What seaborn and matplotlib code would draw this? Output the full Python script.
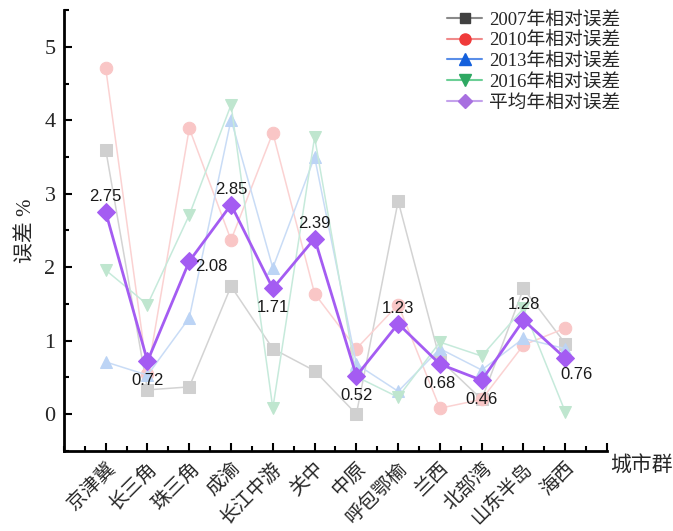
import numpy as np
import pandas as pd
import seaborn as sns
import matplotlib.pyplot as plt
import matplotlib.transforms as mtransforms
from matplotlib.lines import Line2D
from matplotlib.ticker import MultipleLocator

sns.set_theme(style="ticks")
plt.rcParams['font.family'] = ['Liberation Serif', 'Noto Sans CJK SC']
plt.rcParams['axes.unicode_minus'] = False

# City clusters and relative errors (%)
cities = ["京津冀", "长三角", "珠三角", "成渝", "长江中游", "关中",
          "中原", "呼包鄂榆", "兰西", "北部湾", "山东半岛", "海西"]
err_2007 = [3.60, 0.33, 0.37, 1.74, 0.89, 0.59, 0.00, 2.90, 0.74, 0.20, 1.71, 0.96]
err_2010 = [4.71, 0.55, 3.89, 2.37, 3.83, 1.64, 0.89, 1.49, 0.08, 0.20, 0.94, 1.17]
err_2013 = [0.71, 0.53, 1.31, 4.01, 1.99, 3.50, 0.68, 0.31, 0.89, 0.60, 1.03, 0.89]
err_2016 = [1.96, 1.49, 2.71, 4.21, 0.08, 3.77, 0.51, 0.23, 0.98, 0.79, 1.44, 0.03]
err_mean = [2.75, 0.72, 2.08, 2.85, 1.71, 2.39, 0.52, 1.23, 0.68, 0.46, 1.28, 0.76]

series_names = ["2007年相对误差", "2010年相对误差", "2013年相对误差",
                "2016年相对误差", "平均年相对误差"]

pos = np.arange(len(cities))
df = pd.DataFrame({"pos": pos, "城市群": cities,
                   series_names[0]: err_2007, series_names[1]: err_2010,
                   series_names[2]: err_2013, series_names[3]: err_2016,
                   series_names[4]: err_mean})

fig = plt.figure(figsize=(6.73, 5.31), dpi=100)
ax = fig.add_axes([0.095, 0.151, 0.807, 0.830])

# faded yearly series
faded = [
    (series_names[0], "#d3d3d3", "s", "#d0d0d0"),
    (series_names[1], "#fbd2d2", "o", "#f9c6c6"),
    (series_names[2], "#c9dcf6", "^", "#bcd4f5"),
    (series_names[3], "#c6eadb", "v", "#bfe6cf"),
]
for name, lc, mk, mc in faded:
    sns.lineplot(data=df, x="pos", y=name, ax=ax, color=lc, linewidth=1.1,
                 marker=mk, markersize=9, markerfacecolor=mc,
                 markeredgecolor=mc, legend=False, zorder=2)

# mean series on top
sns.lineplot(data=df, x="pos", y=series_names[4], ax=ax, color="#a45cf2",
             linewidth=2.0, marker="D", markersize=9,
             markerfacecolor="#a45cf2", markeredgecolor="#a45cf2",
             legend=False, zorder=5)

# value labels for the mean series
offsets = {0: (0, 11), 1: (0, -14), 2: (16, -4), 3: (0, 11), 4: (0, -14),
           5: (0, 11), 6: (0, -14), 7: (0, 11), 8: (0, -14), 9: (0, -14),
           10: (0, 11), 11: (8, -12)}
for i, v in enumerate(err_mean):
    dx, dy = offsets[i]
    ax.annotate(f"{v:.2f}", (pos[i], v), xytext=(dx, dy),
                textcoords="offset points", ha="center", va="center",
                fontsize=12, family="Liberation Sans", color="#1a1a1a",
                zorder=6)

ax.set_xlim(-1, 12)
ax.set_ylim(-0.5, 5.5)
ax.set_xticks(np.arange(0, 13))
ax.set_xticklabels(cities + [""], rotation=45, ha="right",
                   rotation_mode="anchor", fontsize=14)
shift = mtransforms.ScaledTranslation(10 / 100, -2 / 100, fig.dpi_scale_trans)
for lab in ax.get_xticklabels():
    lab.set_transform(lab.get_transform() + shift)
ax.xaxis.set_minor_locator(MultipleLocator(0.5))
ax.set_yticks([0, 1, 2, 3, 4, 5])
ax.yaxis.set_minor_locator(MultipleLocator(0.5))
ax.tick_params(axis="both", which="major", direction="in", length=6,
               width=1.5, color="black")
ax.tick_params(axis="y", which="major", labelsize=16, pad=6)
ax.tick_params(axis="x", which="major", labelsize=14, pad=6)
ax.tick_params(axis="both", which="minor", direction="in", length=3.5,
               width=1.5, color="black")

for s in ["top", "right"]:
    ax.spines[s].set_visible(False)
for s in ["left", "bottom"]:
    ax.spines[s].set_linewidth(2)
    ax.spines[s].set_color("black")

ax.set_xlabel("")
ax.set_ylabel("误差 %", fontsize=15, labelpad=6)
ax.text(1.005, -0.035, "城市群", transform=ax.transAxes, fontsize=15,
        ha="left", va="center")

handles = [
    Line2D([], [], color="#8a8a8a", marker="s", markersize=7,
           markerfacecolor="#404040", markeredgecolor="#404040", lw=1.5),
    Line2D([], [], color="#f08a8a", marker="o", markersize=8,
           markerfacecolor="#f03a3a", markeredgecolor="#f03a3a", lw=1.5),
    Line2D([], [], color="#5a8ee8", marker="^", markersize=8,
           markerfacecolor="#1460dc", markeredgecolor="#1460dc", lw=1.5),
    Line2D([], [], color="#6ccf96", marker="v", markersize=8,
           markerfacecolor="#2ea862", markeredgecolor="#2ea862", lw=1.5),
    Line2D([], [], color="#c4a2ec", marker="D", markersize=7,
           markerfacecolor="#a870e0", markeredgecolor="#a870e0", lw=1.5),
]
ax.legend(handles, series_names, loc="upper left",
          bbox_to_anchor=(0.705, 0.998), frameon=False, fontsize=13.5,
          handlelength=1.9, handletextpad=0.35, labelspacing=0.18,
          borderaxespad=0, borderpad=0)

fig.savefig("out.png", dpi=100)
